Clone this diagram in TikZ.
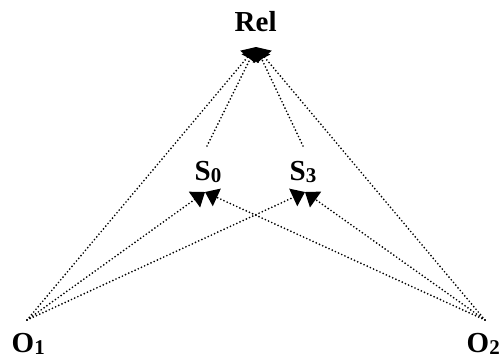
\documentclass[tikz,border=0pt]{standalone}
\usepackage{fontspec}
\setmainfont{Liberation Serif}
\usetikzlibrary{arrows.meta}
\newcommand\mylowsub[1]{\raisebox{-2bp}{\fontsize{21bp}{22bp}\selectfont #1}}
\begin{document}
\begin{tikzpicture}[x=1bp,y=-1bp,
  lbl/.style={anchor=base west,inner sep=0pt,font=\fontsize{29bp}{31bp}\selectfont\bfseries},
  link/.style={line width=1.9bp,dash pattern=on 0bp off 3.5bp,line cap=round,
    -{Triangle[length=13bp,width=19bp]}}]
\useasboundingbox (0,0) rectangle (499,359);
% labels
\node[lbl] (rel) at (234.5,31) {Rel};
\node[lbl] (s0) at (194.5,180) {S\mylowsub{0}};
\node[lbl] (s3) at (289.5,180) {S\mylowsub{3}};
\node[lbl] (o1) at (11.5,352.5) {O\mylowsub{1}};
\node[lbl] (o2) at (466.5,352.5) {O\mylowsub{2}};
% attachment points
\coordinate (relin) at (256,47);
\coordinate (s0in) at (205,192);
\coordinate (s3in) at (305,192);
\coordinate (s0out) at (207,146);
\coordinate (s3out) at (303,146);
\coordinate (o1out) at (27,320);
\coordinate (o2out) at (485,320);
% connectors
\draw[link] (o1out) -- (relin);
\draw[link] (o2out) -- (relin);
\draw[link] (s0out) -- (relin);
\draw[link] (s3out) -- (relin);
\draw[link] (o1out) -- (s0in);
\draw[link] (o1out) -- (s3in);
\draw[link] (o2out) -- (s0in);
\draw[link] (o2out) -- (s3in);
\end{tikzpicture}
\end{document}
